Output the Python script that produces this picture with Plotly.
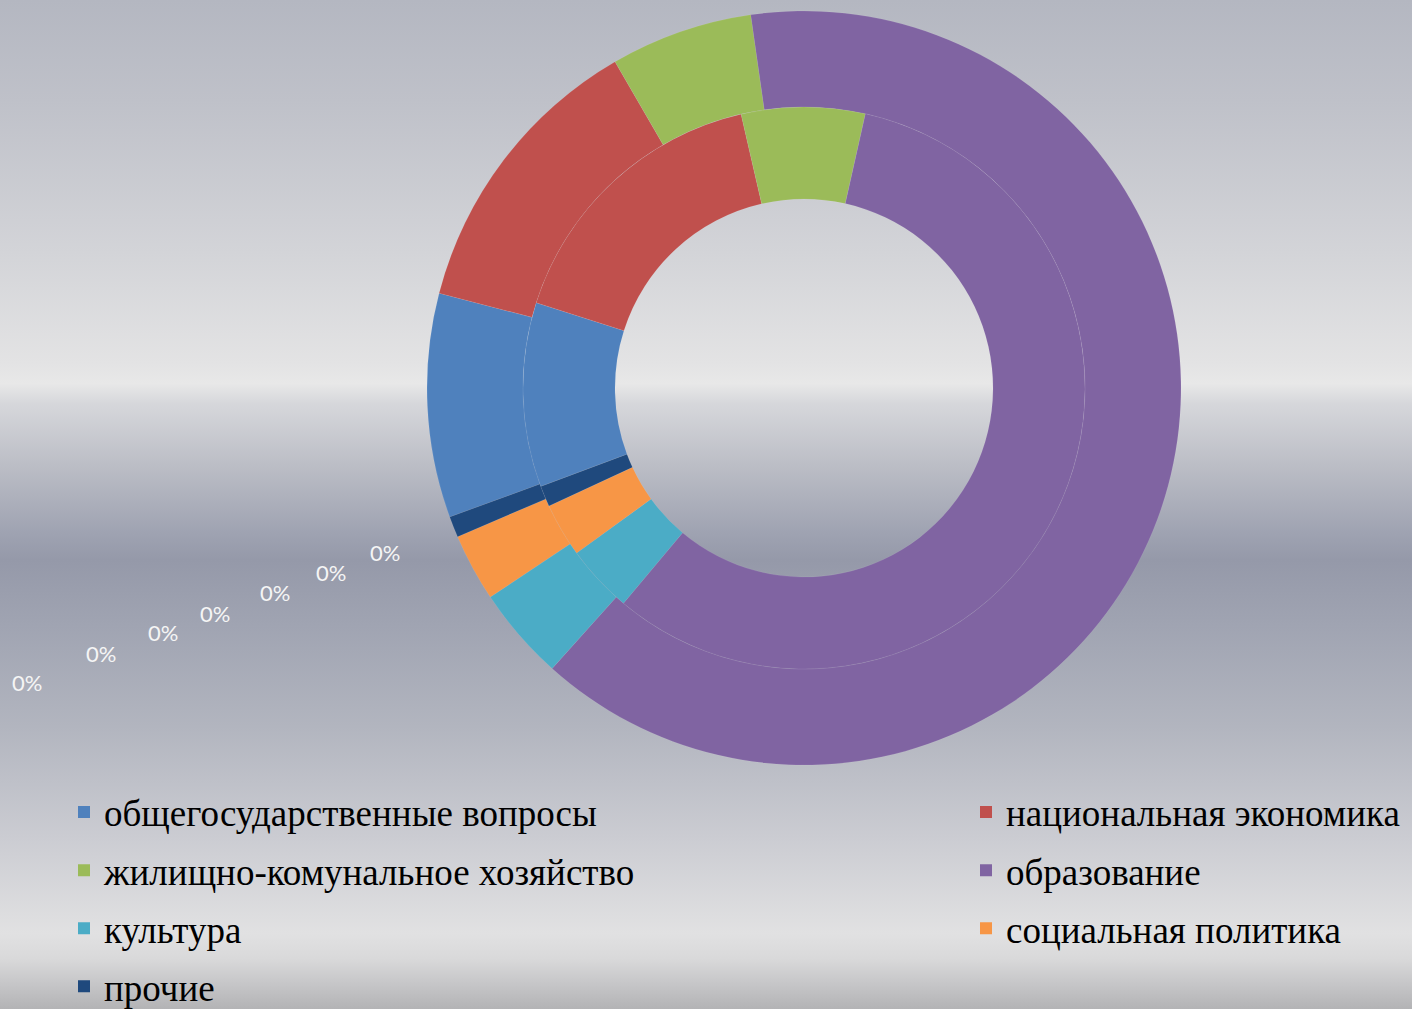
import base64
import plotly.graph_objects as go

# ---------------- data ----------------
categories = [
    "общегосударственные вопросы",
    "национальная экономика",
    "жилищно-комунальное хозяйство",
    "образование",
    "культура",
    "социальная политика",
    "прочие",
]
outer_values = [9.6, 12.6, 6.1, 63.9, 4.0, 2.9, 0.9]   # outer ring, %
inner_values = [10.6, 16.5, 7.1, 57.6, 3.9, 3.1, 1.2]  # inner ring, %
empty_series = [0, 0, 0, 0, 0, 0, 0]                    # series shown only as "0%" labels
colors = ["#4f81bd", "#c0504d", "#9bbb59", "#8064a2", "#4bacc6", "#f79646", "#1f497d"]

# ---------------- layout constants ----------------
W, H = 1412, 1009
CX, CY = 804, 388
R_OUT, R_MID, R_IN = 377, 281, 189


def dom(r):
    return dict(x=[(CX - r) / W, (CX + r) / W], y=[1 - (CY + r) / H, 1 - (CY - r) / H])


# background gradient (vertical metallic)
stops = [
    (0.00, "#b4b7c1"), (0.10, "#bfc1c9"), (0.25, "#d3d4d8"), (0.36, "#e3e3e4"),
    (0.38, "#e8e8e8"), (0.40, "#d6d7db"), (0.46, "#bcbec6"), (0.53, "#9ea2b1"),
    (0.555, "#9599a9"), (0.62, "#a0a4b2"), (0.72, "#b2b5bf"), (0.83, "#cbccd2"),
    (0.925, "#e1e1e2"), (0.95, "#d9d9da"), (0.975, "#c6c6c8"), (1.00, "#b3b3b5"),
]
stop_xml = "".join(f'<stop offset="{o}" stop-color="{c}"/>' for o, c in stops)
svg = (
    f'<svg xmlns="http://www.w3.org/2000/svg" width="{W}" height="{H}" '
    f'viewBox="0 0 {W} {H}" preserveAspectRatio="none">'
    f'<defs><linearGradient id="g" x1="0" y1="0" x2="0" y2="1">{stop_xml}</linearGradient></defs>'
    f'<rect x="0" y="0" width="{W}" height="{H}" fill="url(#g)"/></svg>'
)
bg_uri = "data:image/svg+xml;base64," + base64.b64encode(svg.encode("utf-8")).decode("ascii")

fig = go.Figure()

# legend carriers: one single-slice pie per category, tucked under the outer ring
hide_x = (CX + (R_OUT + R_MID) / 2) / W
hide_y = 1 - CY / H
for i, (lab, val, col) in enumerate(zip(categories, outer_values, colors)):
    fig.add_trace(go.Pie(
        labels=[lab], values=[val], marker=dict(colors=[col]),
        domain=dict(x=[hide_x - 0.001, hide_x + 0.001], y=[hide_y - 0.001, hide_y + 0.001]),
        textinfo="none", hoverinfo="skip", sort=False,
        legendgroup=lab, showlegend=True,
        legendwidth=857 if i % 2 == 0 else None,
    ))

line_style = dict(color="rgba(255,255,255,0.12)", width=0.6)

# outer ring
fig.add_trace(go.Pie(
    name="Ряд 1", labels=categories, values=outer_values,
    marker=dict(colors=colors, line=line_style),
    domain=dom(R_OUT), hole=R_MID / R_OUT,
    sort=False, direction="clockwise", rotation=250 - 360,
    textinfo="none", hoverinfo="label+percent", showlegend=False,
))

# inner ring
fig.add_trace(go.Pie(
    name="Ряд 2", labels=categories, values=inner_values,
    marker=dict(colors=colors, line=line_style),
    domain=dom(R_MID), hole=R_IN / R_MID,
    sort=False, direction="clockwise", rotation=249.5 - 360,
    textinfo="none", hoverinfo="label+percent", showlegend=False,
))

# "0%" labels of the empty series
zero_label_px = [(27, 682), (101, 653), (163, 632), (215, 613), (275, 592), (331, 572), (385, 552)]
annotations = []
for v, (px, py) in zip(empty_series, zero_label_px):
    annotations.append(dict(
        text=f"{v:.0%}", x=px / W, y=1 - py / H, xref="paper", yref="paper",
        showarrow=False, xanchor="center", yanchor="middle",
        font=dict(family="Lato", size=22, color="#f5f5f5"),
    ))

fig.update_layout(
    width=W, height=H,
    margin=dict(l=0, r=0, t=0, b=0, pad=0, autoexpand=False),
    paper_bgcolor="#c8c9ce", plot_bgcolor="rgba(0,0,0,0)",
    images=[dict(source=bg_uri, xref="paper", yref="paper", x=0, y=1, sizex=1, sizey=1,
                 xanchor="left", yanchor="top", sizing="stretch", layer="below")],
    legend=dict(
        orientation="h", traceorder="grouped",
        x=64 / W, xanchor="left", y=1 - 781.5 / H, yanchor="top",
        tracegroupgap=7, bgcolor="rgba(0,0,0,0)", borderwidth=0,
        font=dict(family="Liberation Serif", size=37, color="#000000"),
    ),
    annotations=annotations,
)

fig.write_html(
    "out.html",
    config={"displayModeBar": False},
    post_script="document.body.style.margin='0';document.body.style.overflow='hidden';",
)
